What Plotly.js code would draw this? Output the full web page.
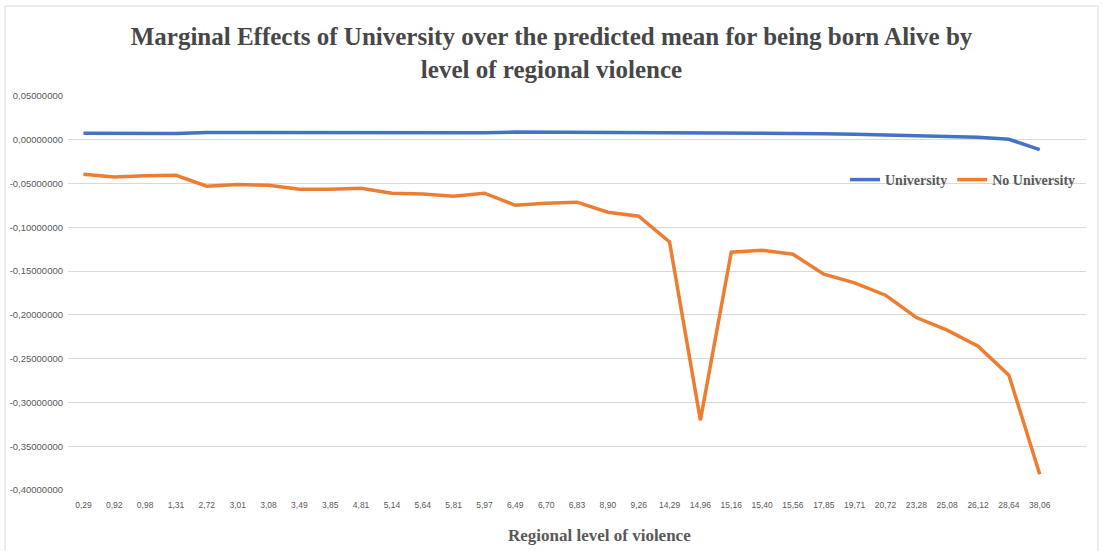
<!DOCTYPE html>
<html>
<head>
<meta charset="utf-8">
<script src="https://cdn.plot.ly/plotly-3.0.1.min.js"></script>
<style>
  html, body { margin: 0; padding: 0; background: #ffffff; }
  #chart { width: 1103px; height: 551px; }
</style>
</head>
<body>
<div id="chart"></div>
<script>
// Regional level of violence (category labels, as printed)
const categories = ['0,29','0,92','0,98','1,31','2,72','3,01','3,08','3,49','3,85','4,81','5,14','5,64','5,81','5,97','6,49','6,70','6,83','8,90','9,26','14,29','14,96','15,16','15,40','15,56','17,85','19,71','20,72','23,28','25,08','26,12','28,64','38,06'];

// Marginal effects, University
const university = [0.0075,0.0075,0.0074,0.0072,0.0083,0.0083,0.0080,0.0083,0.0081,0.0076,0.0079,0.0079,0.0078,0.0079,0.0088,0.0087,0.0083,0.0081,0.0080,0.0081,0.0074,0.0076,0.0073,0.0073,0.0070,0.0062,0.0055,0.0042,0.0040,0.0030,0.0006,-0.0112];

// Marginal effects, No University
const noUniversity = [-0.0394,-0.0425,-0.0410,-0.0405,-0.0530,-0.0510,-0.0520,-0.0565,-0.0565,-0.0554,-0.0610,-0.0620,-0.0645,-0.0610,-0.0748,-0.0725,-0.0713,-0.0828,-0.0873,-0.1167,-0.3202,-0.1284,-0.1261,-0.1307,-0.1535,-0.1635,-0.1775,-0.2030,-0.2175,-0.2357,-0.2688,-0.3819];

// Y axis ticks
const yTickVals = [0.05,0,-0.05,-0.10,-0.15,-0.20,-0.25,-0.30,-0.35,-0.40];
const yTickText = ['0,05000000','0,00000000','-0,05000000','-0,10000000','-0,15000000','-0,20000000','-0,25000000','-0,30000000','-0,35000000','-0,40000000'];

const titleText = 'Marginal Effects of University over the predicted mean for being born Alive by<br>level of regional violence';
const xTitleText = 'Regional level of violence';

const serif = '"Liberation Serif", "Times New Roman", serif';
const sans = '"Liberation Sans", Arial, sans-serif';
const textGrey = '#595959';

const traces = [
  {
    type: 'scatter', mode: 'lines', name: 'University',
    x: categories, y: university,
    line: { color: '#4472C4', width: 3.5 }
  },
  {
    type: 'scatter', mode: 'lines', name: 'No University',
    x: categories, y: noUniversity,
    line: { color: '#ED7D31', width: 3.5 }
  }
];

const layout = {
  width: 1103, height: 551,
  margin: { l: 68, r: 17, t: 96, b: 61 },
  paper_bgcolor: '#ffffff', plot_bgcolor: '#ffffff',
  title: {
    text: titleText,
    font: { family: serif, size: 25, color: '#474747', weight: 'bold' },
    x: 0.5, xref: 'container', xanchor: 'center',
    y: 1 - 45 / 551, yref: 'container', yanchor: 'top'
  },
  xaxis: {
    type: 'category',
    range: [-0.5, 32.5],
    showgrid: false, zeroline: false, showline: false,
    ticks: '',
    tickfont: { family: sans, size: 8.5, color: textGrey },
    tickangle: 0,
    ticklabelstandoff: 8,
    fixedrange: true
  },
  yaxis: {
    range: [-0.40, 0.05],
    tickvals: yTickVals, ticktext: yTickText,
    showgrid: true, gridcolor: '#d9d9d9', gridwidth: 1,
    zeroline: false, showline: false, ticks: '',
    tickfont: { family: sans, size: 9.5, color: textGrey },
    ticklabelstandoff: 4,
    fixedrange: true
  },
  showlegend: true,
  legend: {
    orientation: 'h',
    x: (845 - 68) / 1018, xanchor: 'left',
    y: (490 - 180) / 394, yanchor: 'middle',
    font: { family: serif, size: 14, color: textGrey, weight: 'bold' },
    bgcolor: 'rgba(255,255,255,0)',
    itemwidth: 30
  },
  annotations: [
    {
      text: xTitleText, showarrow: false,
      xref: 'paper', yref: 'paper',
      x: (599 - 68) / 1018, y: (490 - 535) / 394,
      xanchor: 'center', yanchor: 'middle',
      font: { family: serif, size: 17, color: textGrey, weight: 'bold' }
    }
  ],
  shapes: [
    {
      type: 'rect', xref: 'paper', yref: 'paper',
      x0: (5 - 68) / 1018, x1: (1098 - 68) / 1018,
      y0: (490 - 560) / 394, y1: 1 + (96 - 6) / 394,
      line: { color: '#d9d9d9', width: 1 }, fillcolor: 'rgba(0,0,0,0)', layer: 'below'
    }
  ]
};

Plotly.newPlot('chart', traces, layout, { displayModeBar: false, staticPlot: true });
</script>
</body>
</html>
